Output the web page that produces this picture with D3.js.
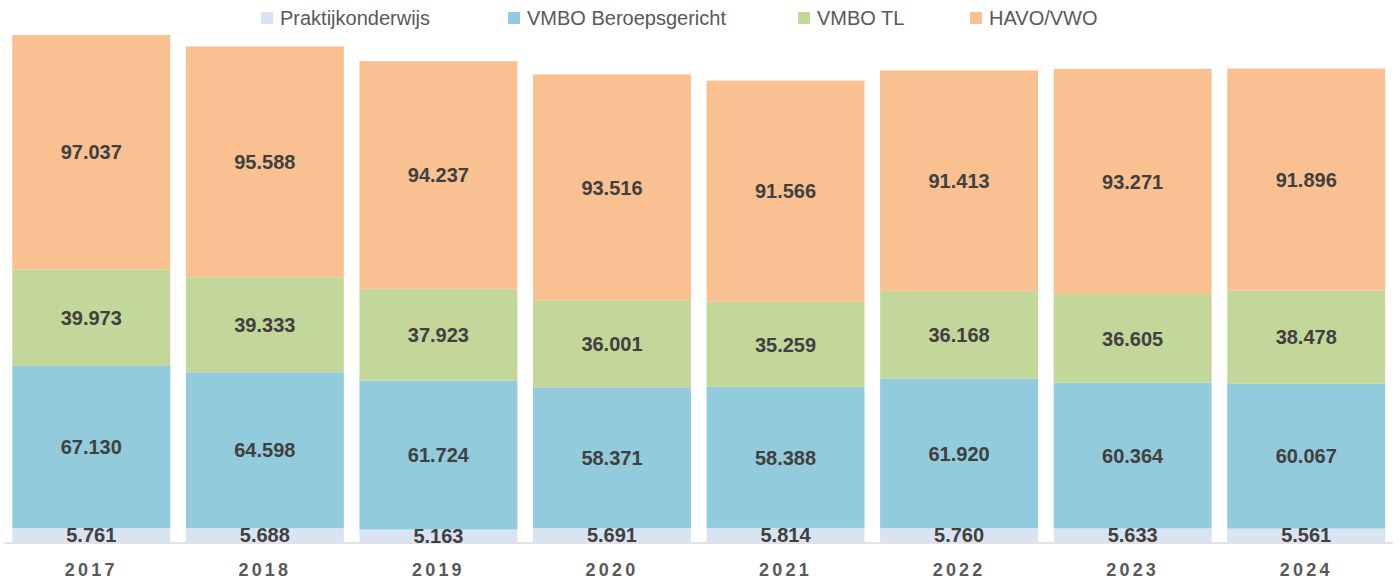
<!DOCTYPE html>
<html>
<head>
<meta charset="utf-8">
<script src="https://cdn.jsdelivr.net/npm/d3@7"></script>
<style>
  body { margin: 0; background: #fff; }
  text { font-family: "Liberation Sans", Arial, sans-serif; }
</style>
</head>
<body>
<svg id="chart"></svg>
<script>
// data
const years = ["2017", "2018", "2019", "2020", "2021", "2022", "2023", "2024"];
const seriesNames = ["Praktijkonderwijs", "VMBO Beroepsgericht", "VMBO TL", "HAVO/VWO"];
const praktijk = [5761, 5688, 5163, 5691, 5814, 5760, 5633, 5561];
const vmboBeroeps = [67130, 64598, 61724, 58371, 58388, 61920, 60364, 60067];
const vmboTL = [39973, 39333, 37923, 36001, 35259, 36168, 36605, 38478];
const havoVwo = [97037, 95588, 94237, 93516, 91566, 91413, 93271, 91896];
const colors = ["#dae3f1", "#92cbdc", "#c4d79b", "#f9c091"];

const width = 1399, height = 583;
const svg = d3.select("#chart").attr("width", width).attr("height", height);

// build rows for d3.stack
const rows = years.map((y, i) => ({
  year: y,
  s0: praktijk[i], s1: vmboBeroeps[i], s2: vmboTL[i], s3: havoVwo[i]
}));
const keys = ["s0", "s1", "s2", "s3"];
const stacked = d3.stack().keys(keys)(rows);

const x = d3.scaleBand().domain(years).range([4.5, 1393])
  .paddingInner(0.09).paddingOuter(0.045);
const y = d3.scaleLinear().domain([0, 220000]).range([542, 10.6]);

const fmt = v => d3.format(",")(v).replace(/,/g, ".");

const layer = svg.selectAll(".layer")
  .data(stacked)
  .enter().append("g")
  .attr("class", "layer")
  .attr("fill", (d, i) => colors[i]);

layer.selectAll("rect")
  .data(d => d)
  .enter().append("rect")
  .attr("x", d => x(d.data.year))
  .attr("width", x.bandwidth())
  .attr("y", d => y(d[1]))
  .attr("height", d => y(d[0]) - y(d[1]));

// axis baseline
svg.append("line")
  .attr("x1", 4.5).attr("x2", 1393)
  .attr("y1", y(0) + 1).attr("y2", y(0) + 1)
  .attr("stroke", "#d9d9d9").attr("stroke-width", 1.5);

// value labels
stacked.forEach((s, i) => {
  svg.selectAll(".lbl" + i)
    .data(s)
    .enter().append("text")
    .attr("x", d => x(d.data.year) + x.bandwidth() / 2)
    .attr("y", d => (y(d[0]) + y(d[1])) / 2)
    .attr("dy", "0.36em")
    .attr("text-anchor", "middle")
    .attr("font-size", 20)
    .attr("font-weight", "bold")
    .attr("fill", "#404040")
    .text(d => fmt(d[1] - d[0]));
});

// year labels
const xAxis = svg.append("g")
  .attr("transform", "translate(0," + (y(0) + 1) + ")")
  .call(d3.axisBottom(x).tickSize(0).tickPadding(20));
xAxis.select(".domain").remove();
xAxis.selectAll("text")
  .attr("font-family", "\"Liberation Sans\", Arial, sans-serif")
  .attr("font-size", 18)
  .attr("font-weight", "bold")
  .attr("letter-spacing", "3.2px")
  .attr("fill", "#595959");

// legend
const legendX = [261, 508, 798, 970];
const legend = svg.selectAll(".legend")
  .data(seriesNames)
  .enter().append("g")
  .attr("transform", (d, i) => "translate(" + legendX[i] + ",0)");
legend.append("rect")
  .attr("x", 0).attr("y", 12)
  .attr("width", 12).attr("height", 12)
  .attr("fill", (d, i) => colors[i]);
legend.append("text")
  .attr("x", 19).attr("y", 18)
  .attr("dy", "0.35em")
  .attr("font-size", 20)
  .attr("fill", "#595959")
  .text(d => d);
</script>
</body>
</html>
